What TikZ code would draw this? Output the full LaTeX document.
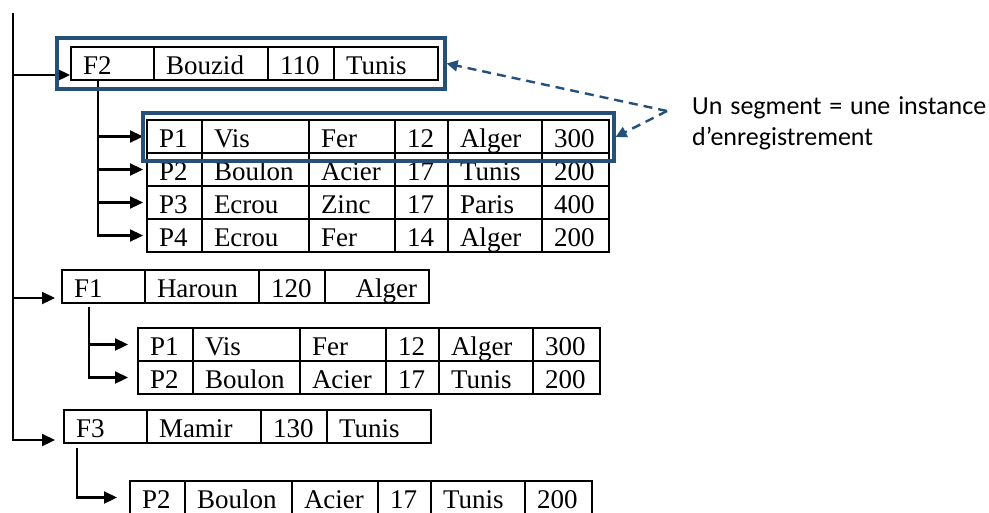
\documentclass[tikz,border=0pt]{standalone}
\usepackage{fontspec}
\setmainfont{Liberation Serif}
\newfontfamily\policelegende{Carlito}
\usepackage{xcolor}
\usepackage{tikz}
\usetikzlibrary{arrows.meta,calc,fit}
\definecolor{BleuCadre}{RGB}{37,80,122}

\begin{document}
\begin{tikzpicture}[x=1pt,y=-1pt,>={Triangle[length=13pt,width=12pt]},
  case/.style={draw,line width=1.2pt,outer sep=0pt,inner xsep=12pt,inner ysep=0pt,
    minimum height=33pt,text width=#1,text height=23pt,text depth=2pt,align=left,
    font=\fontsize{27}{30}\selectfont},
  fleche/.style={->,line width=2.3pt},
  cadre/.style={draw=BleuCadre,line width=3.2pt,inner sep=0pt},
  pointille/.style={-{Triangle[length=11pt,width=11pt]},BleuCadre,line width=2.4pt,
    dash pattern=on 9pt off 6pt},
  legende/.style={font=\policelegende\fontsize{26}{31}\selectfont,text width=294pt,
    align=justify,inner sep=0pt}]
  \useasboundingbox (0,0) rectangle (989,512);
  \foreach \id/\px/\py/\ta/\tb/\tc/\td in {f2/71/47/F2/Bouzid/110/Tunis,
      f1/62/270/F1/Haroun/120/{\hfill Alger},f3/64/410/F3/Mamir/130/Tunis}{
    \node[case=59pt,anchor=north west] (\id) at (\px,\py) {\ta};
    \node[case=90pt,anchor=west] (\id-b) at (\id.east) {\tb};
    \node[case=42pt,anchor=west] (\id-c) at (\id-b.east) {\tc};
    \node[case=80pt,anchor=west] (\id-d) at (\id-c.east) {\td};
  }
  \foreach \id/\px/\py/\ta/\tb/\tc/\td/\te/\tf in {f2p1/147/120/P1/Vis/Fer/12/Alger/300,
      f2p2/147/153/P2/Boulon/Acier/17/Tunis/200,f2p3/147/186/P3/Ecrou/Zinc/17/Paris/400,
      f2p4/147/219/P4/Ecrou/Fer/14/Alger/200,f1p1/138/328/P1/Vis/Fer/12/Alger/300,
      f1p2/138/361/P2/Boulon/Acier/17/Tunis/200,f3p2/130/481/P2/Boulon/Acier/17/Tunis/200}{
    \node[case=31pt,anchor=north west] (\id) at (\px,\py) {\ta};
    \node[case=83pt,anchor=west] (\id-b) at (\id.east) {\tb};
    \node[case=62pt,anchor=west] (\id-c) at (\id-b.east) {\tc};
    \node[case=29pt,anchor=west] (\id-d) at (\id-c.east) {\td};
    \node[case=70pt,anchor=west] (\id-e) at (\id-d.east) {\te};
    \node[case=43pt,anchor=west] (\id-f) at (\id-e.east) {\tf};
  }
  \coordinate (haut) at (13,13);
  \coordinate (entreeF2) at ($(f2.south west)+(0,-5)$);
  \coordinate (entreeF1) at ($(f1.south west)+(0,-5)$);
  \coordinate (entreeF3) at ($(f3.south west)+(0,-3)$);
  \draw[fleche,shorten >=9pt] (haut) |- (entreeF3);
  \draw[fleche,shorten >=1pt] (haut |- entreeF2) -- (entreeF2);
  \draw[fleche,shorten >=7pt] (haut |- entreeF1) -- (entreeF1);
  \coordinate (brF2) at ($(f2.south west)+(27,0)$);
  \draw[fleche,shorten >=4pt] (brF2) |- (f2p4.west);
  \foreach \r in {f2p1,f2p2,f2p3}
    \draw[fleche,shorten >=4pt] (brF2 |- \r.west) -- (\r.west);
  \coordinate (brF1) at ($(f1.south west)+(27,4)$);
  \draw[fleche,shorten >=10pt] (brF1) |- (f1p2.west);
  \draw[fleche,shorten >=10pt] (brF1 |- f1p1.west) -- (f1p1.west);
  \coordinate (brF3) at ($(f3.south west)+(13,5)$);
  \draw[fleche,shorten >=13pt] (brF3) |- (f3p2.west);
  \coordinate (c1a) at ($(f2.north west)+(-14,-9)$);
  \coordinate (c1b) at ($(f2-d.south east)+(7,9)$);
  \node[cadre,fit=(c1a)(c1b)] (cadreF2) {};
  \coordinate (c2a) at ($(f2p1.north west)+(-4,-7)$);
  \coordinate (c2b) at ($(f2p1-f.south east)+(5,8)$);
  \node[cadre,fit=(c2a)(c2b)] (cadreP1) {};
  \node[legende,anchor=north west] (legende) at (692,96) {Un segment = une instance d’enregistrement};
  \coordinate (depart) at (667,111);
  \draw[pointille] (depart) -- (cadreF2.east);
  \draw[pointille] (depart) -- (cadreP1.east);
\end{tikzpicture}
\end{document}
